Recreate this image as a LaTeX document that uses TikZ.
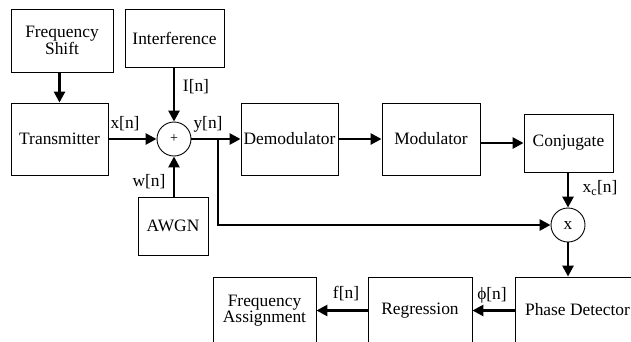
\documentclass[tikz,border=0pt]{standalone}
\usepackage{fontspec}
\setmainfont{Liberation Serif}
\usetikzlibrary{arrows.meta}
\newcommand\myfs{\fontsize{17.4}{16}\selectfont}
\newcommand\mysmall{\fontsize{14}{14}\selectfont}
\tikzset{
  blk/.style={draw, line width=0.9pt, inner sep=0pt, align=center, font=\myfs},
  arr/.style={line width=2.6pt, -{Triangle[length=11pt,width=11pt]}},
  lbl/.style={inner sep=0pt, font=\myfs},
  sumc/.style={circle, draw, line width=0.9pt, minimum size=34pt, inner sep=0pt, font=\mysmall}
}
\begin{document}
\begin{tikzpicture}[x=1pt,y=-1pt]
\useasboundingbox (0,0) rectangle (631,341);
\clip (0,0) rectangle (631,341);
\fill[white] (0,0) rectangle (631,341);
% blocks
\node[blk, minimum width=102pt, minimum height=63pt] (fs) at (62,40.5) {Frequency\\Shift};
\node[blk, minimum width=99pt, minimum height=58pt] (intf) at (174.5,38) {Interference};
\node[blk, minimum width=97pt, minimum height=72pt] (tx) at (59.5,139) {Transmitter};
\node[sumc] (sum) at (174,139) {+};
\node[blk, minimum width=70pt, minimum height=58pt] (awgn) at (173,226) {AWGN};
\node[blk, minimum width=97pt, minimum height=72pt] (demod) at (289.5,139) {Demodulator};
\node[blk, minimum width=98pt, minimum height=72pt] (mod) at (431,139) {Modulator};
\node[blk, minimum width=89pt, minimum height=58pt] (conj) at (568.5,143) {Conjugate};
\node[sumc, font=\myfs] (mul) at (568,225) {x};
\node[blk, minimum width=125pt, minimum height=66pt] (pd) at (577.5,310) {Phase Detector};
\node[blk, minimum width=104pt, minimum height=66pt] (reg) at (420,310.5) {Regression};
\node[blk, minimum width=103pt, minimum height=66pt] (fa) at (264.5,310.5) {Frequency\\Assignment};
\coordinate (br) at (218,139);
% connectors
\draw[arr] (fs.south -| tx) -- (tx.north);
\draw[arr] (sum |- intf.south) -- (sum.north);
\draw[arr] (tx.east) -- (sum.west);
\draw[arr] (sum |- awgn.north) -- (sum.south);
\draw[arr] (sum.east) -- (demod.west);
\draw[arr] (br) |- (mul.west);
\draw[arr] (demod.east) -- (mod.west);
\draw[arr] (mod.east |- conj.west) -- (conj.west);
\draw[arr] (conj.south -| mul) -- (mul.north);
\draw[arr] (mul.south) -- (mul.south |- pd.north);
\draw[arr] (pd.west |- reg.east) -- (reg.east);
\draw[arr] (reg.west) -- (fa.east);
% labels
\node[lbl] (lI) at (196,87) {I[n]};
\node[lbl] (lx) at (125,124) {x[n]};
\node[lbl] (ly) at (208,124) {y[n]};
\node[lbl] (lw) at (149,182) {w[n]};
\node[lbl] (lxc) at (600,188) {x\textsubscript{c}[n]};
\node[lbl] (lphi) at (492,295) {ϕ[n]};
\node[lbl] (lf) at (346,294) {f[n]};
\end{tikzpicture}
\end{document}
